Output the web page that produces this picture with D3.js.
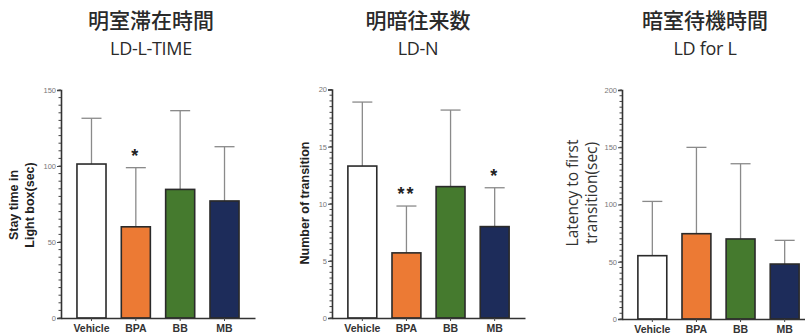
<!DOCTYPE html>
<html>
<head>
<meta charset="utf-8">
<script src="https://cdn.jsdelivr.net/npm/d3@7"></script>
<style>
  html, body { margin: 0; padding: 0; background: #fff; }
  svg { display: block; }
</style>
</head>
<body>
<svg id="chart" width="805" height="335"></svg>
<script>
// Groups shown on every panel
const groups = ["Vehicle", "BPA", "BB", "MB"];
const groupColors = ["#ffffff", "#ec7a34", "#457a2e", "#1d2c5a"];

// Panel 1: time spent in the light box (mean and upper SD)
const lightTimeMean = [101.3, 60.0, 84.6, 77.0];
const lightTimeUpper = [131.4, 98.9, 136.4, 112.7];
const lightTimeTicks = [0, 50, 100, 150];
const lightTimeStars = ["", "*", "", ""];

// Panel 2: number of light/dark transitions
const transMean = [13.3, 5.7, 11.5, 8.0];
const transUpper = [18.9, 9.8, 18.2, 11.4];
const transTicks = [0, 5, 10, 15, 20];
const transStars = ["", "**", "", "*"];

// Panel 3: latency to first transition
const latencyMean = [55.3, 74.5, 69.9, 48.0];
const latencyUpper = [102.7, 149.9, 135.6, 68.7];
const latencyTicks = [0, 50, 100, 150, 200];
const latencyStars = ["", "", "", ""];

const svg = d3.select("#chart");

const panels = [
  {
    title: "明室滞在時間", sub: "LD-L-TIME", cx: 151,
    mean: lightTimeMean, upper: lightTimeUpper, ticks: lightTimeTicks, stars: lightTimeStars,
    max: 150, minor: 5,
    x0: 61, x1: 255, yTop: 90, yBot: 318,
    ylab: ["Stay time in", "Light box(sec)"], ylabX: [14, 30], ylabY: 205,
    ylabFont: "bold 12.5px 'Liberation Sans', Arial, sans-serif", ylabColor: "#222"
  },
  {
    title: "明暗往来数", sub: "LD-N", cx: 418,
    mean: transMean, upper: transUpper, ticks: transTicks, stars: transStars,
    max: 20, minor: 0.5,
    x0: 332, x1: 525, yTop: 89.5, yBot: 318,
    ylab: ["Number of transition"], ylabX: [305], ylabY: 203,
    ylabFont: "bold 12.5px 'Liberation Sans', Arial, sans-serif", ylabColor: "#222"
  },
  {
    title: "暗室待機時間", sub: "LD for L", cx: 705,
    mean: latencyMean, upper: latencyUpper, ticks: latencyTicks, stars: latencyStars,
    max: 200, minor: 5,
    x0: 622, x1: 815, yTop: 90, yBot: 319,
    ylab: ["Latency to first", "transition(sec)"], ylabX: [573, 592], ylabY: 193,
    ylabFont: "15.5px 'Open Sans', sans-serif", ylabColor: "#333"
  }
];

panels.forEach(p => {
  const g = svg.append("g");

  // Titles
  g.append("text")
    .attr("x", p.cx).attr("y", 28)
    .attr("text-anchor", "middle")
    .attr("fill", "#2a2a2a")
    .style("font", "500 21px 'Noto Sans CJK JP', sans-serif")
    .text(p.title);
  g.append("text")
    .attr("x", p.cx).attr("y", 55)
    .attr("text-anchor", "middle")
    .attr("fill", "#2a2a2a")
    .style("font", "18px 'Open Sans', sans-serif")
    .style("letter-spacing", "-0.3px")
    .text(p.sub);

  const x = d3.scaleBand().domain(groups)
    .range([p.x0, p.x1]).paddingInner(0.345).paddingOuter(0.36);
  const y = d3.scaleLinear().domain([0, p.max]).range([p.yBot, p.yTop]);

  // Error bars (upper only)
  const capW = 20;
  groups.forEach((grp, i) => {
    const cx = x(grp) + x.bandwidth() / 2;
    g.append("line")
      .attr("x1", cx).attr("x2", cx)
      .attr("y1", y(p.mean[i])).attr("y2", y(p.upper[i]))
      .attr("stroke", "#8a8a8a").attr("stroke-width", 1.3);
    g.append("line")
      .attr("x1", cx - capW / 2).attr("x2", cx + capW / 2)
      .attr("y1", y(p.upper[i])).attr("y2", y(p.upper[i]))
      .attr("stroke", "#8a8a8a").attr("stroke-width", 1.3);
  });

  // Bars
  g.selectAll("rect.bar").data(groups).enter().append("rect")
    .attr("class", "bar")
    .attr("x", d => x(d))
    .attr("width", x.bandwidth())
    .attr("y", (d, i) => y(p.mean[i]))
    .attr("height", (d, i) => y(0) - y(p.mean[i]))
    .attr("fill", (d, i) => groupColors[i])
    .attr("stroke", "#2a2a2a").attr("stroke-width", 1.6);

  // Significance marks
  groups.forEach((grp, i) => {
    if (!p.stars[i]) return;
    g.append("text")
      .attr("x", x(grp) + x.bandwidth() / 2)
      .attr("y", y(p.upper[i]) - 6)
      .attr("text-anchor", "middle")
      .attr("fill", "#222")
      .style("font", "bold 18px 'Liberation Sans', Arial, sans-serif")
      .style("letter-spacing", "2px")
      .text(p.stars[i]);
  });

  // Minor ticks on y axis
  const minorVals = d3.range(0, p.max + 1e-9, p.minor);
  g.selectAll("line.minor").data(minorVals).enter().append("line")
    .attr("x1", p.x0 - 2.5).attr("x2", p.x0)
    .attr("y1", d => y(d)).attr("y2", d => y(d))
    .attr("stroke", "#444").attr("stroke-width", 1);

  // Y axis
  const yAxis = d3.axisLeft(y).tickValues(p.ticks).tickSize(4).tickPadding(1);
  const ya = g.append("g").attr("transform", `translate(${p.x0},0)`).call(yAxis);
  ya.select(".domain").attr("stroke", "#333").attr("stroke-width", 1.6);
  ya.selectAll(".tick line").attr("stroke", "#444");
  ya.selectAll(".tick text").attr("fill", "#777")
    .style("font", "7.5px 'Liberation Sans', Arial, sans-serif");

  // X axis
  const xAxis = d3.axisBottom(x).tickSize(3).tickPadding(4).tickSizeOuter(0);
  const xa = g.append("g").attr("transform", `translate(0,${p.yBot})`).call(xAxis);
  xa.select(".domain").attr("stroke", "#333").attr("stroke-width", 1.6);
  xa.selectAll(".tick line").attr("stroke", "#444");
  xa.selectAll(".tick text").attr("fill", "#333")
    .style("font", "bold 10.5px 'Liberation Sans', Arial, sans-serif");

  // Y axis title
  p.ylab.forEach((line, k) => {
    g.append("text")
      .attr("transform", `translate(${p.ylabX[k]},${p.ylabY}) rotate(-90)`)
      .attr("text-anchor", "middle")
      .attr("dy", "0.35em")
      .attr("fill", p.ylabColor)
      .style("font", p.ylabFont)
      .text(line);
  });
});
</script>
</body>
</html>
